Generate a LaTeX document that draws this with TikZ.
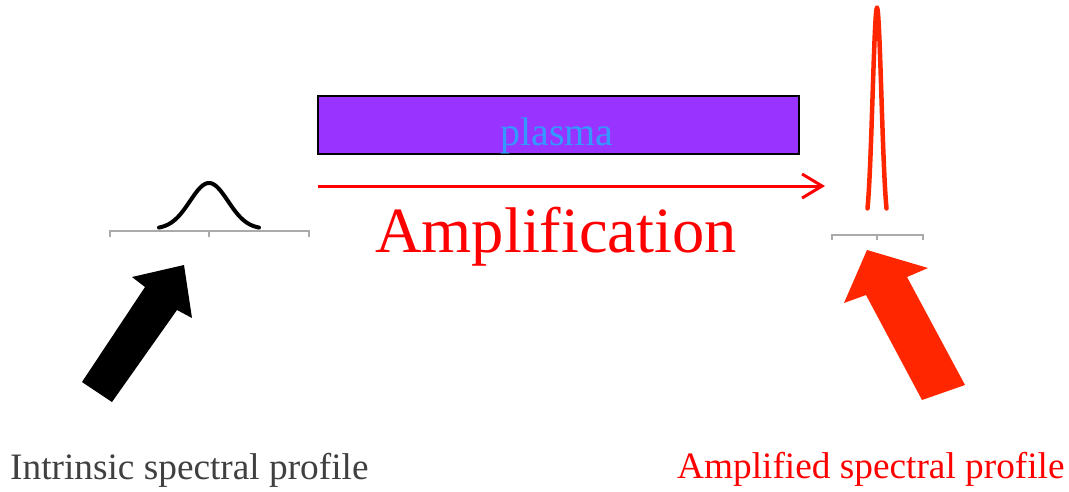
\documentclass[tikz,border=0pt]{standalone}
\usepackage{fontspec}
\setmainfont{Liberation Serif}
\usetikzlibrary{arrows.meta}
\definecolor{plasmafill}{HTML}{9933FF}
\definecolor{plasmatext}{HTML}{3399FF}
\definecolor{ampred}{HTML}{FF0000}
\definecolor{arrred}{HTML}{FF2600}
\definecolor{axisgray}{HTML}{AAAAAA}
\definecolor{labelgray}{HTML}{404040}
\tikzset{
  axisline/.style={draw=axisgray, line width=2pt},
  bigarrow/.style={line join=miter},
  lbl/.style={inner sep=0pt, anchor=base},
}
\begin{document}
\begin{tikzpicture}[x=1pt,y=-1pt]
\useasboundingbox (0,0) rectangle (1069,491);
% plasma box
\node[draw=black, line width=2pt, fill=plasmafill, minimum width=481pt, minimum height=58pt, inner sep=0pt, anchor=north west] (plasma) at (317,95) {};
\node[lbl, text=plasmatext, font=\fontsize{40}{44}\selectfont] (plasmalbl) at (557,145) {plasma};
% amplification arrow
\coordinate (a1) at (318,186);
\coordinate (a2) at (825,186);
\draw[ampred, line width=3pt, -{Straight Barb[length=20pt,width=24pt,line width=3pt]}] (a1) -- (a2);
\node[lbl, text=ampred, font=\fontsize{64.5}{70}\selectfont] (amp) at (556,252) {Amplification};
% left axis and gaussian
\draw[axisline] (110,237) -- (110,231) -- (309,231) -- (309,237);
\draw[axisline] (209,231) -- (209,237);
\draw[black, line width=4pt, line cap=round] plot[domain=-50:50, samples=80] ({209+\x},{229-46*exp(-((\x/19)^2)/2)});
% right axis and narrow peak
\draw[axisline] (832,240) -- (832,235) -- (923,235) -- (923,240);
\draw[axisline] (877,235) -- (877,240);
\draw[arrred, line width=4.5pt, line cap=round] plot[domain=-9.5:9.5, samples=120] ({877+\x},{230-222*exp(-((\x/4.4)^2)/2)});
% black arrow
\fill[black, bigarrow] (82,382) -- (145,287) -- (132,277) -- (184,265) -- (192,318) -- (177,310) -- (112,402) -- cycle;
% red arrow
\fill[arrred, bigarrow] (867,250) -- (844,303) -- (866,295) -- (922,400) -- (965,385) -- (907,277) -- (928,268) -- cycle;
% labels
\node[lbl, anchor=base west, text=labelgray, font=\fontsize{37.3}{40}\selectfont] (intr) at (10,479) {Intrinsic spectral profile};
\node[lbl, anchor=base west, text=ampred, font=\fontsize{37.3}{40}\selectfont] (ampl) at (677,478) {Amplified spectral profile};
\end{tikzpicture}
\end{document}
